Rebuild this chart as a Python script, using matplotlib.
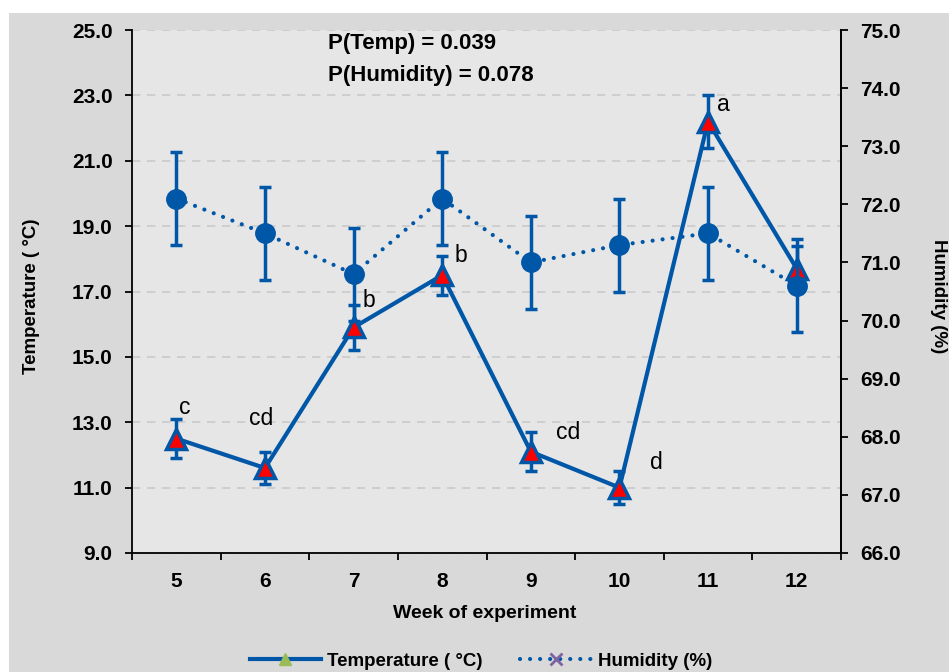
import numpy as np
import matplotlib.pyplot as plt
from matplotlib.lines import Line2D
from matplotlib.patches import Rectangle

plt.rcParams['font.family'] = ['Liberation Sans', 'DejaVu Sans']

# data
weeks = [5, 6, 7, 8, 9, 10, 11, 12]
temp = [12.5, 11.6, 15.9, 17.5, 12.1, 11.0, 22.2, 17.7]
temp_err = [0.6, 0.5, 0.7, 0.6, 0.6, 0.5, 0.8, 0.7]
humidity = [72.1, 71.5, 70.8, 72.1, 71.0, 71.3, 71.5, 70.6]
humidity_err = [0.8, 0.8, 0.8, 0.8, 0.8, 0.8, 0.8, 0.8]
letters = ["c", "cd", "b", "b", "cd", "d", "a", ""]
p_text = ["P(Temp) = 0.039", "P(Humidity) = 0.078"]

# label offsets from the points, in pixels
letter_offsets = [(8, 31), (-4, 50), (15, 27), (19, 20), (37, 19), (37, 25), (15, 17), (0, 0)]

blue = "#0057a8"

fig = plt.figure(figsize=(9.49, 6.72), dpi=100)
fig.patch.set_facecolor("white")
fig.patches.append(Rectangle((9 / 949, 0), 1, 1 - 13 / 672, transform=fig.transFigure,
                             facecolor="#d9d9d9", edgecolor="none", zorder=-10))

ax = fig.add_axes([132 / 949, 1 - 553 / 672, (841 - 132) / 949, (553 - 30) / 672])
ax.set_facecolor("#e6e6e6")
ax2 = ax.twinx()

# temperature
ax.errorbar(weeks, temp, yerr=temp_err, color=blue, lw=3, marker="^", markersize=14,
            markerfacecolor="#ff0000", markeredgecolor=blue, markeredgewidth=2.5,
            ecolor=blue, elinewidth=2.5, capsize=4.5, capthick=2.5, zorder=3)
for x, y, s, (dx, dy) in zip(weeks, temp, letters, letter_offsets):
    if s:
        ax.annotate(s, (x, y), xytext=(dx, dy), textcoords="offset pixels",
                    ha="center", va="center", fontsize=16.5, color="black")

# humidity
ax2.errorbar(weeks, humidity, yerr=humidity_err, color=blue, lw=3, linestyle=(0, (0.01, 2.4)),
             dash_capstyle="round", marker="o", markersize=14, markerfacecolor=blue,
             markeredgecolor=blue, ecolor=blue, elinewidth=2.5, capsize=4.5, capthick=2.5)

ax.set_xlim(4.5, 12.5)
ax.set_ylim(9, 25)
ax2.set_ylim(66, 75)
ax.set_yticks(np.arange(9, 26, 2))
ax2.set_yticks(np.arange(66, 76, 1))
ax.set_yticklabels(["%.1f" % v for v in np.arange(9, 26, 2)])
ax2.set_yticklabels(["%.1f" % v for v in np.arange(66, 76, 1)])
ax.set_xticks(np.arange(4.5, 13, 1))
ax.set_xticklabels([])
ax.set_xticks(weeks, minor=True)
ax.set_xticklabels([str(w) for w in weeks], minor=True)
ax.tick_params(axis="x", which="minor", length=0, pad=14)
ax.tick_params(axis="x", which="major", direction="out", length=5, width=1.3)
ax.tick_params(axis="y", direction="out", length=5, width=1.3, pad=9)
ax2.tick_params(axis="y", direction="out", length=5, width=1.3, pad=9)
for lab in ax.get_xticklabels(minor=True) + ax.get_yticklabels() + ax2.get_yticklabels():
    lab.set_fontsize(15)
    lab.set_fontweight("bold")

ax.yaxis.grid(True, linestyle=(0, (5, 4)), color="#cacaca", lw=1.2)
ax.set_axisbelow(True)
for a in (ax, ax2):
    a.spines["top"].set_visible(False)
    a.spines["left"].set_linewidth(1.3)
    a.spines["bottom"].set_linewidth(1.3)
    a.spines["right"].set_linewidth(1.3)
ax2.spines["left"].set_visible(False)
ax2.spines["bottom"].set_visible(False)

fig.text(328 / 949, 1 - 43 / 672, p_text[0], fontsize=16, fontweight="bold", va="center")
fig.text(328 / 949, 1 - 75 / 672, p_text[1], fontsize=16, fontweight="bold", va="center")

fig.text(32 / 949, 1 - 296 / 672, "Temperature ( °C)", rotation=90, fontsize=13.5,
         fontweight="bold", ha="center", va="center")
fig.text(938 / 949, 1 - 296 / 672, "Humidity (%)", rotation=270, fontsize=13.5,
         fontweight="bold", ha="center", va="center")
fig.text(485 / 949, 1 - 614 / 672, "Week of experiment", fontsize=14,
         fontweight="bold", ha="center", va="center")

handles = [
    Line2D([], [], color=blue, lw=3, marker="^", markersize=9,
           markerfacecolor="#9bbb59", markeredgecolor="#9bbb59"),
    Line2D([], [], color=blue, lw=3, linestyle=(0, (0.01, 2.4)), dash_capstyle="round",
           marker="x", markersize=8, markeredgecolor="#8064a2", markeredgewidth=2),
]
fig.legend(handles, ["Temperature ( °C)", "Humidity (%)"], loc="center",
           bbox_to_anchor=(481 / 949, 1 - 661 / 672), ncol=2, frameon=False,
           handlelength=3.8, handletextpad=0.35, columnspacing=2.0,
           prop={"size": 13.5, "weight": "bold"})

plt.savefig("out.png", dpi=100)
plt.close()
